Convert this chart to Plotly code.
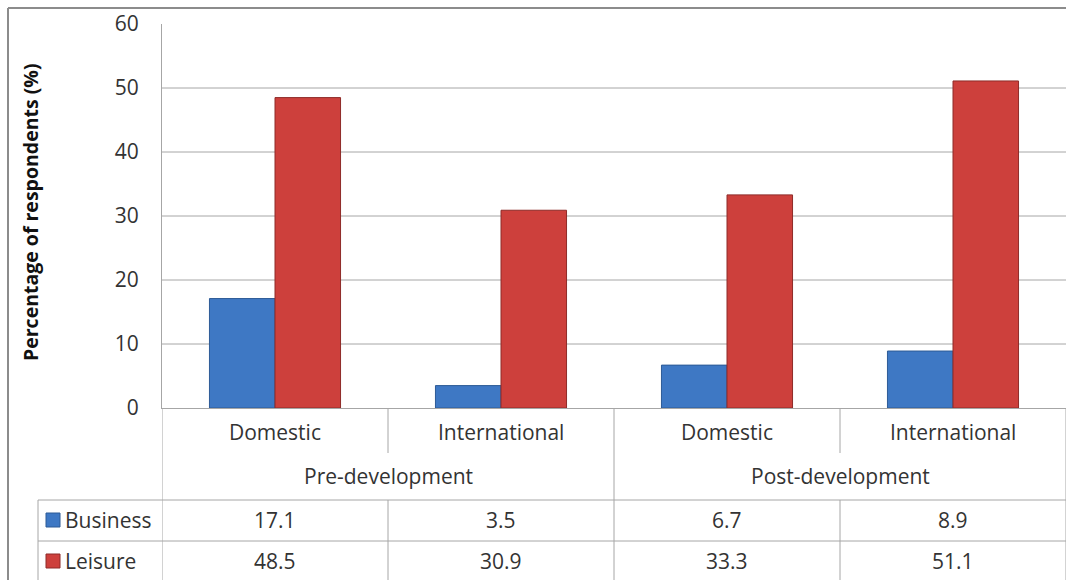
import plotly.graph_objects as go

# Survey data: travel purpose before and after development
groups = ["Pre-development", "Post-development"]
subcategories = ["Domestic", "International", "Domestic", "International"]
business = [17.1, 3.5, 6.7, 8.9]
leisure = [48.5, 30.9, 33.3, 51.1]
y_ticks = [0, 10, 20, 30, 40, 50, 60]

W, H = 1066, 580
L, R, T, B = 162, 0, 24, 172
plot_w = W - L - R
plot_h = H - T - B

FONT = "'Open Sans', Lato, sans-serif"
TXT = "#333333"
GRID = "#a6a6a6"
BORDER = "#8c8c8c"
BLUE, BLUE_EDGE = "#3e78c4", "#2c5a96"
RED, RED_EDGE = "#cd403c", "#8e2b28"
FS = 21


def px_x(px):
    return (px - L) / plot_w


def px_y(py):
    return (H - B - py) / plot_h


def label(x, y, text, xref="paper", xanchor="center", **kw):
    return dict(x=x, y=y, xref=xref, yref="paper", text=text, showarrow=False,
                xanchor=xanchor, yanchor="middle",
                font=dict(family=FONT, size=FS, color=TXT), **kw)


xs = list(range(len(subcategories)))

fig = go.Figure()
fig.add_trace(go.Bar(x=xs, y=business, name="Business",
                     marker=dict(color=BLUE, line=dict(color=BLUE_EDGE, width=1))))
fig.add_trace(go.Bar(x=xs, y=leisure, name="Leisure",
                     marker=dict(color=RED, line=dict(color=RED_EDGE, width=1))))

shapes = []
annotations = []

# Horizontal gridlines (none at the top value)
for v in y_ticks[1:-1]:
    shapes.append(dict(type="line", xref="paper", yref="y", x0=0, x1=1, y0=v, y1=v,
                       line=dict(color=GRID, width=1), layer="below"))

# Outer chart border (left and top)
shapes.append(dict(type="line", xref="paper", yref="paper", x0=px_x(8), x1=px_x(8),
                   y0=px_y(8), y1=px_y(H + 5), line=dict(color=BORDER, width=2)))
shapes.append(dict(type="line", xref="paper", yref="paper", x0=px_x(8), x1=1.01,
                   y0=px_y(8), y1=px_y(8), line=dict(color=BORDER, width=2)))

# Category table separators
y_cat_bottom = px_y(453)
y_group_bottom = px_y(500)
y_row1 = px_y(541)
y_end = px_y(H + 5)
for i in range(len(subcategories) + 1):
    xb = i - 0.5
    if i % 2 == 0:
        shapes.append(dict(type="line", xref="x", yref="paper", x0=xb, x1=xb,
                           y0=0, y1=y_end, line=dict(color=GRID, width=1)))
    else:
        shapes.append(dict(type="line", xref="x", yref="paper", x0=xb, x1=xb,
                           y0=0, y1=y_cat_bottom, line=dict(color=GRID, width=1)))
        shapes.append(dict(type="line", xref="x", yref="paper", x0=xb, x1=xb,
                           y0=y_group_bottom, y1=y_end, line=dict(color=GRID, width=1)))

# Data table rows
for yy in (y_group_bottom, y_row1):
    shapes.append(dict(type="line", xref="paper", yref="paper", x0=px_x(38), x1=1,
                       y0=yy, y1=yy, line=dict(color=GRID, width=1)))
shapes.append(dict(type="line", xref="paper", yref="paper", x0=px_x(38), x1=px_x(38),
                   y0=y_group_bottom, y1=y_end, line=dict(color=GRID, width=1)))

# Subcategory labels
for i, s in enumerate(subcategories):
    annotations.append(label(i, px_y(432), s, xref="x"))

# Group labels
for g, name in enumerate(groups):
    annotations.append(label(2 * g + 0.5, px_y(476), name, xref="x"))

# Table values and legend keys
rows = [("Business", business, BLUE, BLUE_EDGE, 520),
        ("Leisure", leisure, RED, RED_EDGE, 561)]
for name, vals, col, edge, cy in rows:
    shapes.append(dict(type="rect", xref="paper", yref="paper",
                       x0=px_x(46), x1=px_x(60), y0=px_y(cy - 7), y1=px_y(cy + 7),
                       fillcolor=col, line=dict(color=edge, width=1)))
    annotations.append(label(px_x(63), px_y(cy), name, xanchor="left"))
    for i, v in enumerate(vals):
        annotations.append(label(i, px_y(cy), f"{v}", xref="x"))

# Y-axis title
annotations.append(dict(x=px_x(30), y=px_y(212), xref="paper", yref="paper",
                        xanchor="center", yanchor="middle",
                        text="<b>Percentage of respondents (%)</b>", textangle=-90,
                        showarrow=False, font=dict(family=FONT, size=19.5, color="#111111")))

fig.update_layout(
    width=W, height=H,
    margin=dict(l=L, r=R, t=T, b=B, pad=0),
    paper_bgcolor="white", plot_bgcolor="white",
    barmode="group", bargap=0.42, bargroupgap=0,
    showlegend=False,
    shapes=shapes, annotations=annotations,
    xaxis=dict(range=[-0.5, 3.5], showticklabels=False, showgrid=False, zeroline=False,
               showline=True, linecolor=GRID, linewidth=1, ticks=""),
    yaxis=dict(range=[0, 60], tickvals=y_ticks, showgrid=False, zeroline=False,
               showline=True, linecolor=GRID, linewidth=1, ticks="",
               ticklabelstandoff=18,
               tickfont=dict(family=FONT, size=FS, color=TXT)),
)

fig.write_html("out.html")
